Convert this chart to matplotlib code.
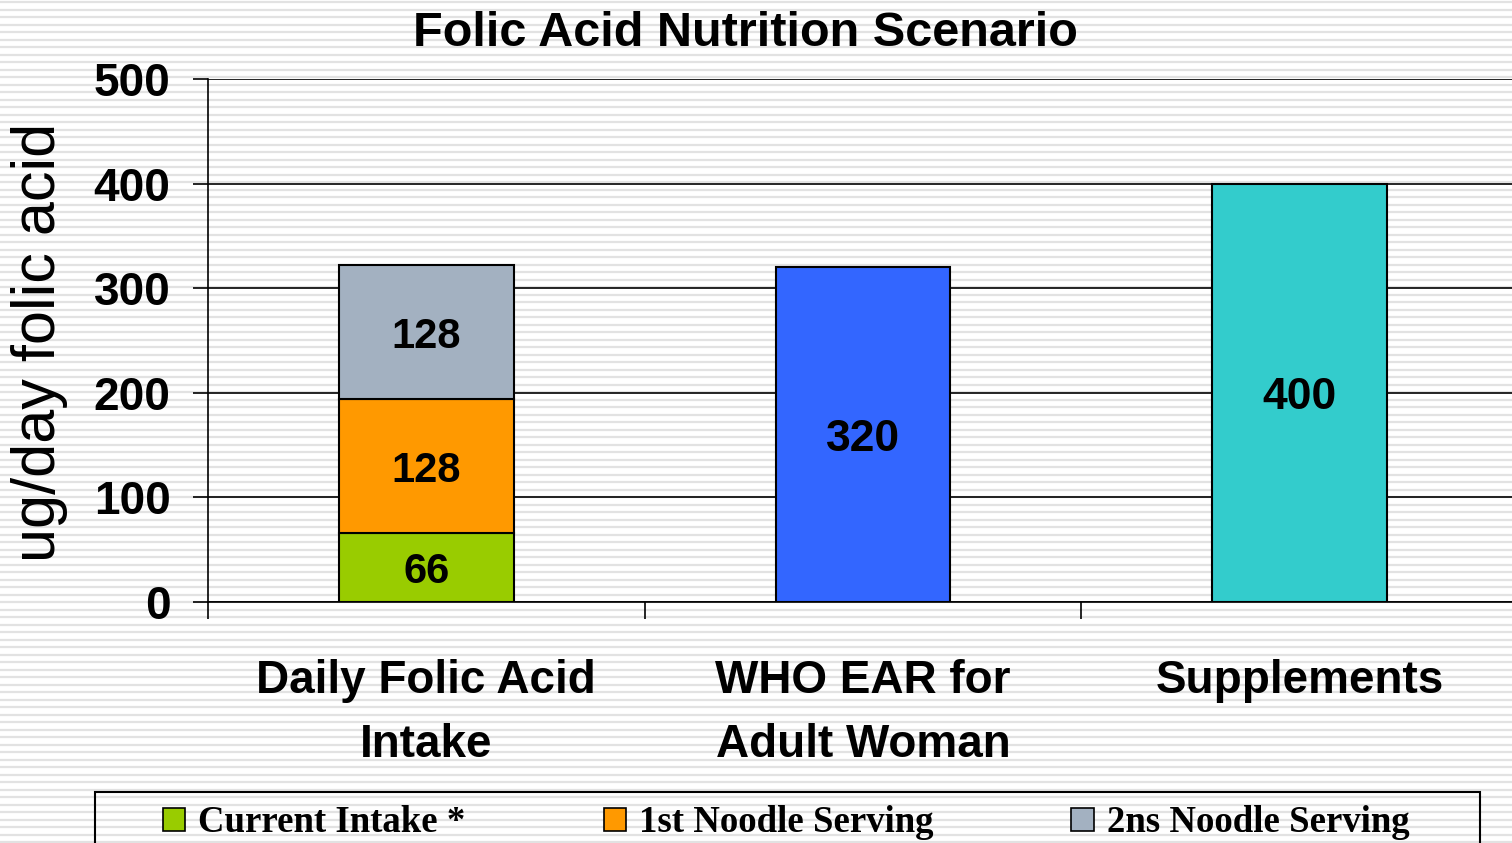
"""Folic acid nutrition scenario: stacked daily intake vs WHO EAR vs supplements."""

import matplotlib

matplotlib.use("Agg")

import matplotlib.pyplot as plt
import numpy as np
from matplotlib.patches import Patch, Rectangle

categories = ["Daily Folic Acid\nIntake", "WHO EAR for\nAdult Woman", "Supplements"]

# stacked components of the first bar
stack_labels = ["Current Intake *", "1st Noodle Serving", "2ns Noodle Serving"]
stack_values = [66, 128, 128]
stack_colors = ["#99cc00", "#ff9900", "#a3b1c1"]

# single bars
single_values = [320, 400]
single_colors = ["#3366ff", "#33cccc"]

y_ticks = [0, 100, 200, 300, 400, 500]

W, H = 1512, 843
fig = plt.figure(figsize=(W / 100, H / 100), dpi=100)
fig.patch.set_facecolor("white")

# striped background across the whole figure
bg = fig.add_axes([0, 0, 1, 1], zorder=-10)
bg.set_xlim(0, W)
bg.set_ylim(H, 0)
bg.hlines(np.arange(2, H, 7.5), 0, W, color="#e2e2e2", linewidth=1.6)
bg.axis("off")

ax = fig.add_axes([208 / W, 1 - 602 / H, 1310 / W, 523 / H])
ax.patch.set_alpha(0)

bar_w = 0.4
bottom = 0
for val, col in zip(stack_values, stack_colors):
    ax.bar(0, val, bar_w, bottom=bottom, color=col, edgecolor="black", linewidth=1.5, zorder=3)
    ax.text(0, bottom + val / 2, str(val), ha="center", va="center_baseline",
            fontsize=30, fontweight="bold", family="Liberation Sans", zorder=4)
    bottom += val

for i, (val, col) in enumerate(zip(single_values, single_colors), start=1):
    ax.bar(i, val, bar_w, color=col, edgecolor="black", linewidth=1.5, zorder=3)
    ax.text(i, val / 2, str(val), ha="center", va="center_baseline",
            fontsize=32, fontweight="bold", family="Liberation Sans", zorder=4)

ax.set_xlim(-0.5, 2.5)
ax.set_ylim(0, 500)
ax.set_yticks(y_ticks)
ax.set_yticklabels([str(t) for t in y_ticks], fontsize=33, fontweight="bold",
                   family="Liberation Sans")
ax.tick_params(axis="y", length=11, width=1.2, pad=16, direction="out")

ax.set_xticks([-0.5, 0.5, 1.5, 2.5])
ax.set_xticklabels([])
ax.tick_params(axis="x", which="major", length=12, width=1.2, direction="out")
ax.set_xticks([0, 1, 2], minor=True)
ax.set_xticklabels(categories, minor=True, fontsize=33, fontweight="bold",
                   family="Liberation Sans", linespacing=1.6)
ax.tick_params(axis="x", which="minor", length=0, pad=41)

ax.grid(axis="y", color="black", linewidth=1.2, zorder=1)
ax.set_axisbelow(True)
for side in ["top", "right"]:
    ax.spines[side].set_visible(False)
for side in ["left", "bottom"]:
    ax.spines[side].set_linewidth(1.2)

fig.text(40 / W, 1 - 342 / H, "ug/day folic acid", rotation=90, ha="center", va="center",
         fontsize=44, family="Liberation Sans")

fig.text(745 / W, 1 - 34 / H, "Folic Acid Nutrition Scenario", ha="center", va="center",
         fontsize=35, fontweight="bold", family="Liberation Sans")

# legend frame runs off the bottom of the figure
fig.patches.append(Rectangle((95 / W, -0.05), 1385 / W, 0.05 + 1 - 792 / H,
                             transform=fig.transFigure, fill=False,
                             edgecolor="black", linewidth=1.5))
handles = [Patch(facecolor=c, edgecolor="black", linewidth=1.2) for c in stack_colors]
fig.legend(handles, stack_labels, loc="center left",
           bbox_to_anchor=(163 / W, 1 - 823 / H), ncol=3, frameon=False,
           borderpad=0, borderaxespad=0, handlelength=0.6, handleheight=0.6,
           handletextpad=0.36, columnspacing=3.75,
           prop={"family": "Liberation Serif", "weight": "bold", "size": 26.5})

fig.savefig("out.png", dpi=100)
